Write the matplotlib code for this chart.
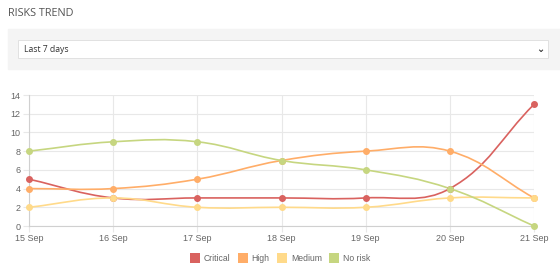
import numpy as np
import matplotlib.pyplot as plt
from matplotlib.path import Path
from matplotlib.patches import PathPatch, Rectangle

plt.rcParams['font.family'] = ['Liberation Sans', 'DejaVu Sans']

days = ['15 Sep', '16 Sep', '17 Sep', '18 Sep', '19 Sep', '20 Sep', '21 Sep']
series_names = ['Critical', 'High', 'Medium', 'No risk']
critical = [5, 3, 3, 3, 3, 4, 13]
high = [4, 4, 5, 7, 8, 8, 3]
medium = [2, 3, 2, 2, 2, 3, 3]
no_risk = [8, 9, 9, 7, 6, 4, 0]
colors = ['#d9625f', '#ffad68', '#ffda8a', '#c6d680']

fig = plt.figure(figsize=(5.6, 2.76), dpi=100)

# header, filter panel
fig.text(8 / 560, 1 - 13 / 276, 'RISKS TREND', fontsize=7.8, color='#555555',
         va='center', ha='left', family=['Open Sans', 'DejaVu Sans'])
fig.patches.append(Rectangle((8 / 560, 1 - 69 / 276), 552 / 560, 40 / 276,
                             transform=fig.transFigure, color='#f4f4f4', zorder=0))
fig.patches.append(Rectangle((18 / 560, 1 - 58 / 276), 530 / 560, 18 / 276,
                             transform=fig.transFigure, facecolor='white',
                             edgecolor='#dddddd', lw=0.6, zorder=1))
fig.text(24 / 560, 1 - 49.5 / 276, 'Last 7 days', fontsize=6.2, color='#333333',
         va='center', ha='left', family=['Open Sans', 'DejaVu Sans'])
fig.text(540 / 560, 1 - 49 / 276, '\u2304', fontsize=7, color='#333333',
         va='center', ha='center', fontweight='bold', family=['DejaVu Sans'])

ax = fig.add_axes([29 / 560, 1 - 226 / 276, 505 / 560, 131 / 276])
x = np.arange(len(days))
ax.set_xlim(0, len(days) - 1)
ax.set_ylim(0, 14)
ax.set_yticks(range(0, 15, 2))
ax.set_xticks(x)
ax.set_xticklabels(days)
ax.grid(True, color='#e8e8e8', lw=0.8)
ax.set_axisbelow(True)
for s in ['top', 'right']:
    ax.spines[s].set_visible(False)
ax.spines['left'].set_color('#d0d0d0')
ax.spines['bottom'].set_color('#d0d0d0')
ax.tick_params(length=4, color='#e8e8e8', labelsize=6.5, labelcolor='#666666', pad=2)
fig.canvas.draw()


def smooth_path(xs, ys, tension=0.4):
    # Chart.js style cubic spline, computed in pixel space
    pts = ax.transData.transform(np.column_stack([xs, ys]))
    n = len(pts)
    cp_prev, cp_next = [], []
    for i in range(n):
        prev = pts[i - 1] if i > 0 else pts[i]
        cur = pts[i]
        nxt = pts[i + 1] if i < n - 1 else pts[i]
        d01 = np.hypot(*(cur - prev))
        d12 = np.hypot(*(nxt - cur))
        tot = d01 + d12
        s01 = d01 / tot if tot else 0
        s12 = d12 / tot if tot else 0
        cp_prev.append(cur - tension * s01 * (nxt - prev))
        cp_next.append(cur + tension * s12 * (nxt - prev))
    bb = ax.bbox
    verts = [pts[0]]
    codes = [Path.MOVETO]
    for i in range(n - 1):
        c1 = np.clip(cp_next[i], [bb.x0, bb.y0], [bb.x1, bb.y1])
        c2 = np.clip(cp_prev[i + 1], [bb.x0, bb.y0], [bb.x1, bb.y1])
        verts += [c1, c2, pts[i + 1]]
        codes += [Path.CURVE4] * 3
    verts = ax.transData.inverted().transform(np.array(verts))
    return Path(verts, codes)


for name, ys, c in zip(series_names, [critical, high, medium, no_risk], colors):
    ax.add_patch(PathPatch(smooth_path(x, ys), facecolor='none', edgecolor=c,
                           lw=1.2, clip_on=False, zorder=3))
    ax.plot(x, ys, 'o', color=c, ms=4, clip_on=False, zorder=4, label=name)

handles = [Rectangle((0, 0), 1, 1, facecolor=c, edgecolor='none') for c in colors]
fig.legend(handles, series_names, loc='center', bbox_to_anchor=(0.5, 1 - 258 / 276),
           ncol=4, frameon=False, fontsize=6.2, labelcolor='#666666',
           handlelength=1.2, handleheight=1.5, handletextpad=0.45, columnspacing=0.8)

fig.savefig('out.png', dpi=100)
